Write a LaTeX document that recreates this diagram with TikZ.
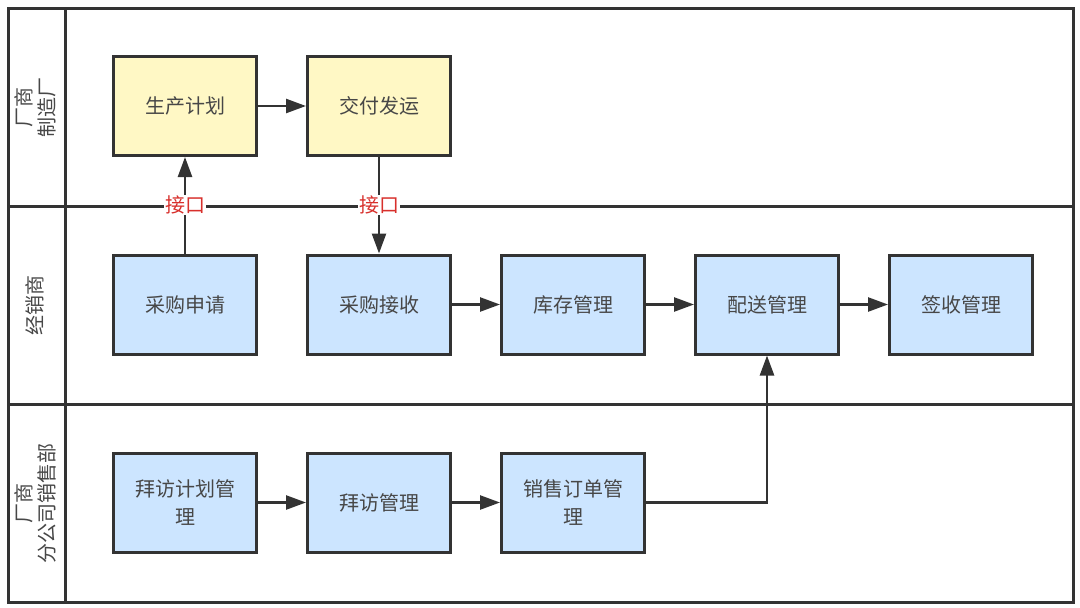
\documentclass[tikz,border=0pt]{standalone}
\usepackage{fontspec}
\setmainfont{Noto Sans CJK SC}
\usetikzlibrary{positioning}
\usetikzlibrary{arrows.meta}
\definecolor{lGray}{HTML}{333333}
\definecolor{bYellow}{HTML}{FFF8C5}
\definecolor{bBlue}{HTML}{CCE5FF}
\definecolor{iRed}{HTML}{D8302C}

\begin{document}
\begin{tikzpicture}[x=1pt, y=-1pt,
    lane/.style = {draw=lGray, line width=3pt},
    lanelabel/.style = {rotate=90, align=center, text=lGray!90, font=\fontsize{20}{23}\selectfont},
    proc/.style = {draw=lGray, line width=3pt, minimum width=143pt, minimum height=99pt,
      align=center, text=lGray!90, font=\fontsize{20}{28}\selectfont},
    maker/.style = {proc, fill=bYellow},
    dealer/.style = {proc, fill=bBlue},
    flow/.style = {draw=lGray, line width=2.5pt, -{Triangle[length=20pt, width=14pt]}},
    iface/.style = {fill=white, text=iRed, inner sep=1pt, font=\fontsize{20}{22}\selectfont},
    ]

    \useasboundingbox (0,0) rectangle (1080,608);

    % lanes
    \draw[lane] (8,8) rectangle (1073,602);
    \draw[lane] (8,206) -- (1073,206);
    \draw[lane] (8,404) -- (1073,404);
    \draw[lane] (65,8) -- (65,602);

    \node[lanelabel] (laneA) at (35,107) {厂商\\制造厂};
    \node[lanelabel] (laneB) at (35,305) {经销商};
    \node[lanelabel] (laneC) at (35,503) {厂商\\分公司销售部};

    % manufacturer
    \node[maker] (plan) at (185,106) {生产计划};
    \node[maker, right=48pt of plan] (ship) {交付发运};

    % dealer
    \node[dealer] (apply) at (185,304.5) {采购申请};
    \node[dealer, right=48pt of apply] (receive) {采购接收};
    \node[dealer, right=48pt of receive] (stock) {库存管理};
    \node[dealer, right=48pt of stock] (deliver) {配送管理};
    \node[dealer, right=48pt of deliver] (sign) {签收管理};

    % branch sales
    \node[dealer] (visitplan) at (185,502.5) {拜访计划管\\理};
    \node[dealer, right=48pt of visitplan] (visit) {拜访管理};
    \node[dealer, right=48pt of visit] (order) {销售订单管\\理};

    \draw[flow] (plan) -- (ship);
    \draw[flow] (apply) -- node[iface] (ifaceA) {接口} (plan);
    \draw[flow] (ship) -- node[iface] (ifaceB) {接口} (receive);

    \draw[flow] (receive) -- (stock);
    \draw[flow] (stock) -- (deliver);
    \draw[flow] (deliver) -- (sign);

    \draw[flow] (visitplan) -- (visit);
    \draw[flow] (visit) -- (order);
    \draw[flow] (order.east) -| (deliver.south);

\end{tikzpicture}
\end{document}
